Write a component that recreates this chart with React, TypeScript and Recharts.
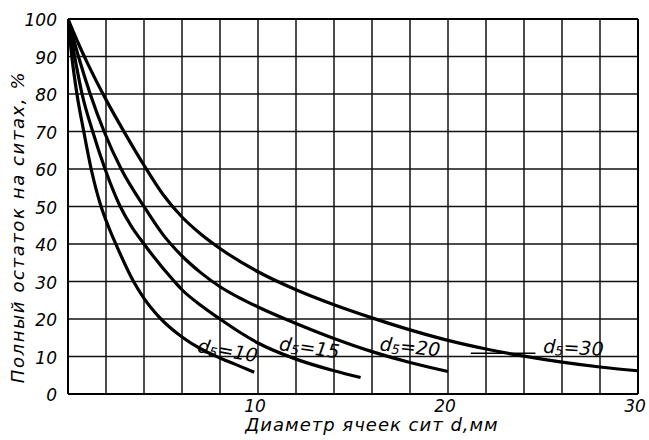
import { LineChart, Line, XAxis, YAxis, CartesianGrid, ReferenceLine, ReferenceDot } from "recharts";

// values: x = mesh size d, mm; y = cumulative residue, %
const curveD10 = [
  { x: 0, y: 100 }, { x: 0.2, y: 90 }, { x: 0.47, y: 80 }, { x: 0.83, y: 70 },
  { x: 1.22, y: 60 }, { x: 1.74, y: 50 }, { x: 2.1, y: 45 }, { x: 2.56, y: 39.5 },
  { x: 3.45, y: 30 }, { x: 4, y: 25.5 }, { x: 4.8, y: 20.5 }, { x: 6, y: 15.2 },
  { x: 7, y: 12 }, { x: 8, y: 9.6 }, { x: 9, y: 7.5 }, { x: 9.8, y: 5.8 },
];
const curveD15 = [
  { x: 0, y: 100 }, { x: 0.35, y: 90 }, { x: 0.74, y: 80 }, { x: 1.3, y: 70 },
  { x: 1.95, y: 60 }, { x: 2.75, y: 50 }, { x: 3.3, y: 45 }, { x: 4, y: 40 },
  { x: 5.6, y: 30 }, { x: 6, y: 27.8 }, { x: 7, y: 23.6 }, { x: 8, y: 20 },
  { x: 9, y: 16.6 }, { x: 10, y: 13.6 }, { x: 12, y: 9.3 }, { x: 14, y: 6.2 },
  { x: 15.4, y: 4.4 },
];
const curveD20 = [
  { x: 0, y: 100 }, { x: 0.55, y: 90 }, { x: 1.17, y: 80 }, { x: 1.9, y: 70 },
  { x: 2.8, y: 60 }, { x: 4, y: 50 }, { x: 5, y: 42.5 }, { x: 6, y: 36.8 },
  { x: 7, y: 32.3 }, { x: 8, y: 28.6 }, { x: 9, y: 25.7 }, { x: 10, y: 23.2 },
  { x: 12, y: 18.8 }, { x: 14, y: 14.8 }, { x: 16, y: 11.3 }, { x: 18, y: 8.4 },
  { x: 20, y: 6 },
];
const curveD30 = [
  { x: 0, y: 100 }, { x: 0.5, y: 94 }, { x: 1, y: 88.5 }, { x: 2, y: 78.5 },
  { x: 3, y: 69.5 }, { x: 4, y: 61 }, { x: 5, y: 53.2 }, { x: 6, y: 47.2 },
  { x: 7, y: 42.6 }, { x: 8, y: 38.8 }, { x: 10, y: 32.6 }, { x: 12, y: 27.8 },
  { x: 14, y: 23.8 }, { x: 16, y: 20.3 }, { x: 18, y: 17.1 }, { x: 20, y: 14.3 },
  { x: 22, y: 12 }, { x: 24, y: 10.1 }, { x: 26, y: 8.5 }, { x: 28, y: 7.2 },
  { x: 30, y: 6.2 },
];

const curveLabels = [
  { x: 8.4, y: 11.4, d: "10", angle: 10 },
  { x: 12.7, y: 12.2, d: "15", angle: 8 },
  { x: 18, y: 12.4, d: "20", angle: 6 },
  { x: 26.6, y: 12.2, d: "30", angle: 3 },
];
const leader = [{ x: 21.2, y: 10.9 }, { x: 24.6, y: 10.9 }];

const xTicks = [0, 2, 4, 6, 8, 10, 12, 14, 16, 18, 20, 22, 24, 26, 28, 30];
const xTickLabels = [10, 20, 30];
const yTicks = [0, 10, 20, 30, 40, 50, 60, 70, 80, 90, 100];

const font = "'DejaVu Sans', sans-serif";

function XTick({ x, y, payload }: any) {
  if (!xTickLabels.includes(payload.value)) return null;
  return (
    <text x={x - 3} y={y} dy="0.75em" textAnchor="middle" fontFamily={font} fontStyle="italic" fontSize={17} fill="#000">
      {payload.value}
    </text>
  );
}

function YTick({ x, y, payload }: any) {
  return (
    <text x={x} y={y + 1} dy="0.36em" textAnchor="end" fontFamily={font} fontStyle="italic" fontSize={17} fill="#000">
      {payload.value}
    </text>
  );
}

function CurveLabel({ cx, cy, d, angle }: any) {
  return (
    <text
      x={cx}
      y={cy}
      textAnchor="middle"
      dominantBaseline="middle"
      fontFamily={font}
      fontStyle="italic"
      fontSize={19}
      fill="#000"
      transform={`rotate(${angle} ${cx} ${cy})`}
    >
      <tspan>d</tspan>
      <tspan fontSize={13} dy={4}>5</tspan>
      <tspan dy={-4}>={d}</tspan>
    </text>
  );
}

export default function App() {
  return (
    <div style={{ position: "absolute", left: 0, top: 0, width: 649, height: 440, background: "#fff" }}>
      <LineChart width={649} height={440} margin={{ top: 19, right: 11, bottom: 0, left: 0 }}>
        <CartesianGrid stroke="#111" strokeWidth={1.5} />
        <XAxis
          type="number"
          dataKey="x"
          domain={[0, 30]}
          ticks={xTicks}
          allowDataOverflow
          height={46}
          stroke="#000"
          strokeWidth={2}
          tickLine={false}
          tickSize={0}
          tickMargin={5}
          tick={<XTick />}
          label={{
            content: () => (
              <text x={372} y={431} textAnchor="middle" fontFamily={font} fontStyle="italic" fontSize={18} letterSpacing={1} fill="#000">
                Диаметр ячеек сит d,мм
              </text>
            ),
          }}
        />
        <YAxis
          type="number"
          domain={[0, 100]}
          ticks={yTicks}
          width={68}
          stroke="#000"
          strokeWidth={2}
          tickLine={false}
          tickSize={0}
          tickMargin={11}
          tick={<YTick />}
          label={{
            content: () => (
              <text
                x={24}
                y={227}
                textAnchor="middle"
                fontFamily={font}
                fontStyle="italic"
                fontSize={18}
                letterSpacing={1.6}
                fill="#000"
                transform="rotate(-90 24 227)"
              >
                Полный остаток на ситах, %
              </text>
            ),
          }}
        />
        <ReferenceLine y={100} stroke="#000" strokeWidth={2} />
        <ReferenceLine x={30} stroke="#000" strokeWidth={2} />
        <ReferenceLine segment={leader} stroke="#000" strokeWidth={1.5} />
        <Line data={curveD10} dataKey="y" type="monotone" stroke="#000" strokeWidth={3.2} dot={false} isAnimationActive={false} />
        <Line data={curveD15} dataKey="y" type="monotone" stroke="#000" strokeWidth={3.2} dot={false} isAnimationActive={false} />
        <Line data={curveD20} dataKey="y" type="monotone" stroke="#000" strokeWidth={3.2} dot={false} isAnimationActive={false} />
        <Line data={curveD30} dataKey="y" type="monotone" stroke="#000" strokeWidth={3.2} dot={false} isAnimationActive={false} />
        {curveLabels.map((l) => (
          <ReferenceDot
            key={l.d}
            x={l.x}
            y={l.y}
            r={0}
            shape={(p: any) => <CurveLabel cx={p.cx} cy={p.cy} d={l.d} angle={l.angle} />}
          />
        ))}
      </LineChart>
    </div>
  );
}
